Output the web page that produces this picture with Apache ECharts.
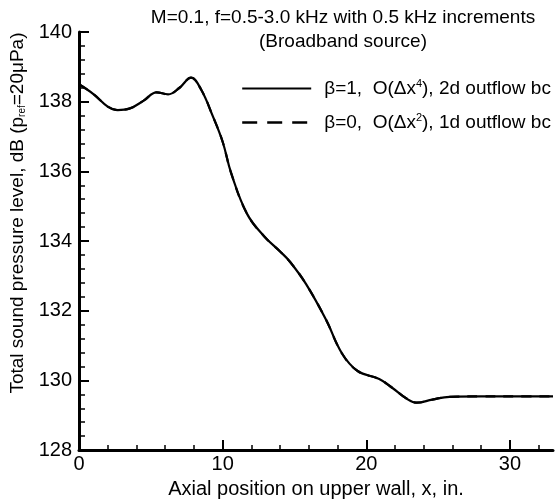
<!DOCTYPE html>
<html><head><meta charset="utf-8">
<script src="https://cdn.jsdelivr.net/npm/echarts@6/dist/echarts.min.js"></script>
<style>html,body{margin:0;padding:0;background:#fff}#c{width:558px;height:504px}</style>
</head><body><div id="c"></div>
<script>
// Data
const xPos = [0, 1, 2, 2.7, 3.5, 4.5, 5.4, 6.2, 7, 7.8, 8.5, 9.3, 10, 10.6, 11.7, 12.9, 14, 14.7, 15.8, 17.2, 18.3, 19.4, 20.9, 21.8, 22.8, 23.5, 24.6, 25.8, 28, 30, 33];
const splBeta1 = [138.5, 138.22, 137.86, 137.76, 137.8, 138.03, 138.27, 138.21, 138.4, 138.69, 138.35, 137.6, 136.85, 135.94, 134.78, 134.13, 133.7, 133.4, 132.77, 131.74, 130.78, 130.27, 130.04, 129.79, 129.48, 129.36, 129.45, 129.53, 129.54, 129.54, 129.54];
const splBeta0 = [138.5, 138.22, 137.86, 137.76, 137.8, 138.03, 138.27, 138.21, 138.4, 138.69, 138.35, 137.6, 136.85, 135.94, 134.78, 134.13, 133.7, 133.4, 132.77, 131.74, 130.78, 130.27, 130.04, 129.79, 129.48, 129.36, 129.45, 129.53, 129.54, 129.54, 129.54];
const xMajorTicks = [0, 10, 20, 30];
const xMinorTicks = [2, 4, 6, 8, 12, 14, 16, 18, 22, 24, 26, 28, 32];
const seriesNames = ['β=1', 'β=0'];

const FONT = '"Liberation Sans", Arial, sans-serif';
const chart = echarts.init(document.getElementById('c'), null, {renderer: 'canvas'});
const pts = a => xPos.map((x, i) => [x, a[i]]);
const legendText = {
  'β=1': '{t|β=1,  O(Δx}{s|4}{t|), 2d outflow bc}',
  'β=0': '{t|β=0,  O(Δx}{s|2}{t|), 1d outflow bc}'
};
chart.setOption({
  animation: false,
  backgroundColor: '#fff',
  title: {
    text: 'M=0.1, f=0.5-3.0 kHz with 0.5 kHz increments\n(Broadband source)',
    left: 338, top: 1, textAlign: 'center',
    textStyle: {fontFamily: FONT, fontSize: 19, fontWeight: 'normal', color: '#000', lineHeight: 24, align: 'center'}
  },
  legend: {
    orient: 'vertical', left: 236, top: 73, itemGap: 14, itemWidth: 69, itemHeight: 20,
    data: [
      {name: seriesNames[0], lineStyle: {color: '#000', width: 2, type: 'solid'}},
      {name: seriesNames[1], lineStyle: {color: '#000', width: 2.4, type: [15, 10]}}
    ],
    itemStyle: {opacity: 0},
    formatter: n => legendText[n],
    textStyle: {
      fontFamily: FONT, fontSize: 19, color: '#000', padding: [0, 0, 0, 8],
      rich: {
        t: {fontFamily: FONT, fontSize: 19, color: '#000'},
        s: {fontFamily: FONT, fontSize: 11, color: '#000', verticalAlign: 'top', padding: [0, 0, 10, 0]}
      }
    }
  },
  grid: {left: 79, right: 5, top: 32, bottom: 50},
  xAxis: [{
    type: 'value', min: 0, max: 33,
    name: 'Axial position on upper wall, x, in.', nameLocation: 'middle', nameGap: 28,
    nameTextStyle: {fontFamily: FONT, fontSize: 20, color: '#000'},
    axisLine: {lineStyle: {color: '#000', width: 3}},
    axisTick: {inside: true, length: 10, lineStyle: {color: '#000', width: 2}, customValues: xMajorTicks},
    axisLabel: {fontFamily: FONT, fontSize: 20, color: '#000', margin: 4, customValues: xMajorTicks},
    splitLine: {show: false}
  }, {
    type: 'value', min: 0, max: 33, position: 'bottom',
    axisLine: {show: false},
    axisTick: {inside: true, length: 5, lineStyle: {color: '#000', width: 1.5}, customValues: xMinorTicks},
    axisLabel: {show: false},
    splitLine: {show: false}
  }],
  yAxis: {
    type: 'value', min: 128, max: 140, interval: 2,
    name: '{t|Total sound pressure level, dB (p}{s|ref}{t|=20μPa)}', nameLocation: 'middle', nameGap: 52,
    nameTextStyle: {fontFamily: FONT, fontSize: 19, color: '#000', padding: [0, 0, 0, 56],
      rich: {t: {fontFamily: FONT, fontSize: 19, color: '#000'}, s: {fontFamily: FONT, fontSize: 10, color: '#000', verticalAlign: 'bottom', padding: [8, 0, 0, 0]}}},
    axisLine: {lineStyle: {color: '#000', width: 3}},
    axisTick: {inside: true, length: 10, lineStyle: {color: '#000', width: 2}},
    minorTick: {show: true, splitNumber: 5, length: 6, lineStyle: {color: '#000', width: 1.5}},
    axisLabel: {fontFamily: FONT, fontSize: 20, color: '#000', margin: 7},
    splitLine: {show: false}, minorSplitLine: {show: false}
  },
  series: [{
    name: 'β=0', type: 'line', data: pts(splBeta0), smooth: 0.4, symbol: 'none', xAxisIndex: 0,
    itemStyle: {color: '#000'},
    lineStyle: {color: '#000', width: 2.2, type: [10, 8]}, z: 2
  }, {
    name: 'β=1', type: 'line', data: pts(splBeta1), smooth: 0.4, symbol: 'none', xAxisIndex: 0,
    itemStyle: {color: '#000'},
    lineStyle: {color: '#000', width: 2.2, type: 'solid'}, z: 3
  }]
});
</script></body></html>
